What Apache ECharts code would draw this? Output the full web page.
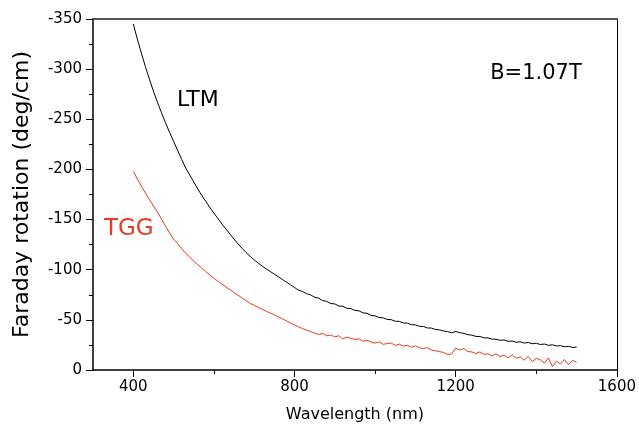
<!DOCTYPE html>
<html>
<head>
<meta charset="utf-8">
<script src="https://cdn.jsdelivr.net/npm/echarts@6/dist/echarts.min.js"></script>
<style>
  html, body { margin: 0; padding: 0; background: #fff; }
  #chart { width: 639px; height: 428px; }
</style>
</head>
<body>
<div id="chart"></div>
<script>
// wavelength (nm), one reading every 10 nm
var wavelengths = [
  400, 410, 420, 430, 440, 450, 460, 470, 480, 490,
  500, 510, 520, 530, 540, 550, 560, 570, 580, 590,
  600, 610, 620, 630, 640, 650, 660, 670, 680, 690,
  700, 710, 720, 730, 740, 750, 760, 770, 780, 790,
  800, 810, 820, 830, 840, 850, 860, 870, 880, 890,
  900, 910, 920, 930, 940, 950, 960, 970, 980, 990,
  1000, 1010, 1020, 1030, 1040, 1050, 1060, 1070, 1080, 1090,
  1100, 1110, 1120, 1130, 1140, 1150, 1160, 1170, 1180, 1190,
  1200, 1210, 1220, 1230, 1240, 1250, 1260, 1270, 1280, 1290,
  1300, 1310, 1320, 1330, 1340, 1350, 1360, 1370, 1380, 1390,
  1400, 1410, 1420, 1430, 1440, 1450, 1460, 1470, 1480, 1490,
  1500
]
// Faraday rotation (deg/cm)
var ltm = [
  -345, -330, -316, -302.5, -290, -278, -267, -256.5, -246.5, -237,
  -228, -219, -210, -201.5, -194.5, -187.5, -180.5, -174, -168, -162,
  -156.5, -151, -145.5, -140.5, -135.5, -130.5, -125.8, -121.3, -117, -113.3,
  -109.8, -106.6, -103.6, -100.8, -98.2, -95.6, -93, -90.3, -87.6, -85,
  -82.3, -79.6, -78.2, -76.1, -74.9, -72.6, -71.6, -69.2, -68.4, -66.3,
  -65.9, -63.8, -63.5, -61.6, -61.2, -59.4, -59.0, -56.9, -56.6, -54.4,
  -54.0, -52.3, -52.0, -50.4, -50.2, -48.6, -48.5, -46.9, -46.7, -45.2,
  -45.0, -43.6, -43.4, -41.9, -41.8, -40.4, -40.0, -38.9, -38.3, -37.1,
  -38.4, -37.3, -36.5, -35.2, -34.8, -33.5, -33.4, -32.1, -32.0, -30.8,
  -30.7, -29.6, -29.9, -28.6, -28.9, -27.7, -28.1, -26.9, -27.4, -26.2,
  -26.7, -25.4, -25.9, -24.6, -25.1, -23.9, -24.3, -23.2, -23.6, -22.4,
  -22.9
]
var tgg = [
  -198, -190.5, -183.5, -176.5, -170, -163.5, -157.5, -150.5, -143.5, -136.5,
  -130.5, -126, -121, -116.5, -112.5, -108.5, -105, -101.5, -98, -94.7,
  -91.5, -88.5, -85.5, -82.8, -80, -77.3, -74.5, -71.8, -69, -66.5,
  -64.5, -62.5, -60.5, -58.5, -56.8, -55, -53, -51, -49, -47,
  -45, -43, -41.3, -39.7, -38.3, -36.8, -35.4, -36.6, -34.1, -34.9,
  -33.0, -34.2, -31.0, -32.9, -31.5, -30.4, -31.2, -28.6, -29.7, -27.9,
  -26.8, -28.0, -25.6, -26.3, -26.9, -24.5, -25.8, -23.9, -24.7, -22.6,
  -24.1, -22.2, -21.4, -22.3, -19.8, -19.2, -18.3, -17.5, -15.3, -16.2,
  -21.8, -19.9, -21.4, -18.4, -18.0, -16.4, -18.1, -15.6, -16.1, -14.0,
  -16.2, -13.4, -14.8, -12.1, -15.3, -11.6, -13.1, -9.8, -13.5, -8.4,
  -11.7, -10.2, -6.9, -12.0, -3.5, -8.7, -6.1, -10.4, -5.4, -9.6,
  -7.8
]
// x axis ticks
var xMajorTicks = [400, 800, 1200, 1600]
var xMinorTicks = [600, 1000, 1400]

var font = '"DejaVu Sans", "Liberation Sans", Arial, sans-serif'
var red = '#e63a22'

function pairs(ys) {
  return wavelengths.map(function (w, i) { return [w, ys[i]] })
}

var myChart = echarts.init(document.getElementById('chart'), null, { renderer: 'canvas' })

var option = {
  animation: false,
  backgroundColor: '#fff',
  grid: { left: 93, right: 17, top: 19, bottom: 58 },
  xAxis: [
    {
      type: 'value',
      min: 300,
      max: 1600,
      position: 'bottom',
      name: 'Wavelength (nm)',
      nameLocation: 'middle',
      nameGap: 37,
      nameTextStyle: { fontFamily: font, fontSize: 16, color: '#000' },
      axisLine: { show: true, onZero: false, lineStyle: { color: '#000', width: 1.5 } },
      axisTick: { show: true, customValues: xMajorTicks, length: 7, lineStyle: { color: '#000' } },
      axisLabel: {
        customValues: xMajorTicks,
        formatter: function (v) { return String(v) },
        fontFamily: font, fontSize: 15, color: '#000', margin: 10
      },
      splitLine: { show: false }
    },
    {
      // minor ticks only
      type: 'value',
      min: 300,
      max: 1600,
      position: 'bottom',
      axisLine: { show: false, onZero: false },
      axisTick: { show: true, customValues: xMinorTicks, length: 4, lineStyle: { color: '#000' } },
      axisLabel: { show: false },
      splitLine: { show: false }
    },
    {
      // top frame
      type: 'value',
      min: 300,
      max: 1600,
      position: 'top',
      axisLine: { show: true, onZero: false, lineStyle: { color: '#555', width: 2 } },
      axisTick: { show: false },
      axisLabel: { show: false },
      splitLine: { show: false }
    }
  ],
  yAxis: [
    {
      type: 'value',
      inverse: true,
      min: -350,
      max: 0,
      interval: 50,
      position: 'left',
      name: 'Faraday rotation (deg/cm)',
      nameLocation: 'middle',
      nameGap: 60,
      nameTextStyle: { fontFamily: font, fontSize: 22, color: '#000' },
      axisLine: { show: true, onZero: false, lineStyle: { color: '#000', width: 1.5 } },
      axisTick: { show: true, length: 7, lineStyle: { color: '#000' } },
      minorTick: { show: true, splitNumber: 2, length: 4, lineStyle: { color: '#000' } },
      axisLabel: { fontFamily: font, fontSize: 15, color: '#000', margin: 11 },
      splitLine: { show: false },
      minorSplitLine: { show: false }
    },
    {
      // right frame
      type: 'value',
      inverse: true,
      min: -350,
      max: 0,
      position: 'right',
      axisLine: { show: true, onZero: false, lineStyle: { color: '#000', width: 1 } },
      axisTick: { show: false },
      axisLabel: { show: false },
      splitLine: { show: false }
    }
  ],
  series: [
    {
      name: 'LTM',
      type: 'line',
      xAxisIndex: 0,
      yAxisIndex: 0,
      showSymbol: false,
      symbol: 'none',
      data: pairs(ltm),
      lineStyle: { color: '#000', width: 1 },
      itemStyle: { color: '#000' }
    },
    {
      name: 'TGG',
      type: 'line',
      xAxisIndex: 0,
      yAxisIndex: 0,
      showSymbol: false,
      symbol: 'none',
      data: pairs(tgg),
      lineStyle: { color: red, width: 1 },
      itemStyle: { color: red }
    }
  ],
  graphic: [
    { type: 'text', x: 177, y: 100, style: { text: 'LTM', font: '22px ' + font, fill: '#000', verticalAlign: 'middle' } },
    { type: 'text', x: 104, y: 229, style: { text: 'TGG', font: '23px ' + font, fill: red, verticalAlign: 'middle' } },
    { type: 'text', x: 536, y: 74, style: { text: 'B=1.07T', font: '21px ' + font, fill: '#000', align: 'center', verticalAlign: 'middle' } }
  ]
}

myChart.setOption(option)
</script>
</body>
</html>
